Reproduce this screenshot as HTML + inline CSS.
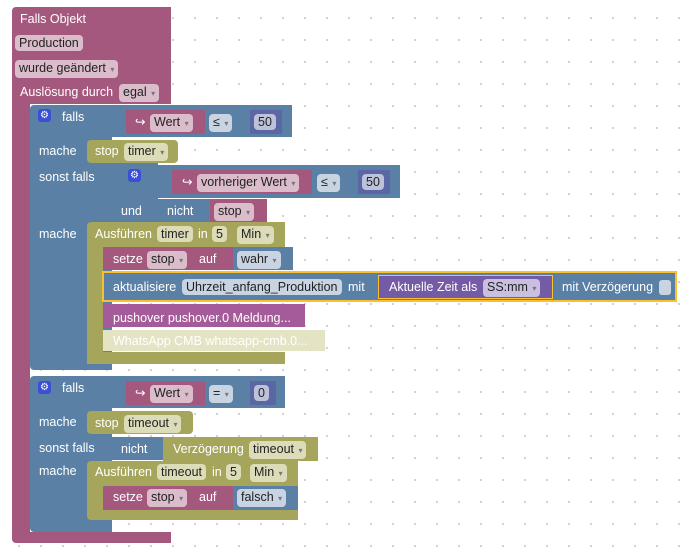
<!DOCTYPE html>
<html><head><meta charset="utf-8"><style>
body{margin:0;width:693px;height:560px;overflow:hidden;background:#fff;position:relative;font-family:"Liberation Sans",sans-serif;font-size:12.5px;}
#bg{position:absolute;left:0;top:0;width:693px;height:560px;background-image:radial-gradient(circle,#ccc 0.9px,transparent 1.2px);background-size:22px 22px;background-position:8px 7px;}
.b{position:absolute;}
.m{background:#a5587d;}
.bl{background:#5b80a5;}
.o{background:#a5a55b;}
.p{background:#a55b99;}
.t{position:absolute;color:#fff;white-space:nowrap;line-height:16px;}
.f{position:absolute;color:#222;white-space:nowrap;line-height:16px;padding:0 4px;border-radius:4px;background:rgba(255,255,255,.6);}
.dd:after{content:"  ▾";font-size:8px;color:#777;white-space:pre;}
.gear{position:absolute;width:13px;height:13px;background:#3b4fd6;border-radius:3px;color:#fff;font-size:10px;line-height:13px;text-align:center;}
</style></head><body>
<div id="bg"></div>
<div class="b m" style="left:12px;top:7px;width:159px;height:97px;border-radius:4px 0 0 0"></div>
<div class="b m" style="left:12px;top:100px;width:18px;height:440px"></div>
<div class="b m" style="left:12px;top:532px;width:159px;height:11px;border-radius:0 0 0 4px"></div>
<div class="t" style="left:20px;top:11px">Falls Objekt</div>
<div class="f" style="left:15px;top:35px">Production</div>
<div class="f dd" style="left:15px;top:60px">wurde geändert</div>
<div class="t" style="left:20px;top:84px">Auslösung durch</div>
<div class="f dd" style="left:119px;top:84px">egal</div>

<div class="b bl" style="left:30px;top:105px;width:82px;height:265px;border-radius:4px 0 0 4px"></div>
<div class="b bl" style="left:112px;top:105px;width:180px;height:32px"></div>
<div class="gear" style="left:38px;top:109px">⚙</div>
<div class="t" style="left:62px;top:109px">falls</div>
<div class="b m" style="left:126px;top:110px;width:79px;height:24px"></div>
<div class="t" style="left:135px;top:114px">↪</div>
<div class="f dd" style="left:150px;top:114px">Wert</div>
<div class="f dd" style="left:209px;top:114px;background:#c8d4e2">≤</div>
<div class="b" style="left:250px;top:110px;width:32px;height:24px;background:#5b67a5"></div>
<div class="f" style="left:254px;top:114px">50</div>
<div class="t" style="left:39px;top:143px">mache</div>
<div class="b o" style="left:87px;top:140px;width:91px;height:23px;border-radius:4px"></div>
<div class="t" style="left:95px;top:143px">stop</div>
<div class="f dd" style="left:124px;top:143px;background:#dcdcb8">timer</div>
<div class="t" style="left:39px;top:169px">sonst falls</div>
<div class="b bl" style="left:112px;top:163px;width:46px;height:59px"></div>
<div class="b bl" style="left:158px;top:165px;width:242px;height:33px"></div>
<div class="gear" style="left:128px;top:169px">⚙</div>
<div class="b m" style="left:172px;top:170px;width:140px;height:24px"></div>
<div class="t" style="left:182px;top:174px">↪</div>
<div class="f dd" style="left:197px;top:174px">vorheriger Wert</div>
<div class="f dd" style="left:317px;top:174px;background:#c8d4e2">≤</div>
<div class="b" style="left:358px;top:170px;width:32px;height:24px;background:#5b67a5"></div>
<div class="f" style="left:362px;top:174px">50</div>
<div class="t" style="left:121px;top:203px">und</div>
<div class="b bl" style="left:158px;top:199px;width:52px;height:23px"></div>
<div class="t" style="left:167px;top:203px">nicht</div>
<div class="b m" style="left:210px;top:199px;width:57px;height:23px"></div>
<div class="f dd" style="left:214px;top:203px">stop</div>
<div class="t" style="left:39px;top:226px">mache</div>
<div class="b o" style="left:87px;top:222px;width:198px;height:25px;border-radius:4px 0 0 0"></div>
<div class="b o" style="left:87px;top:246px;width:16px;height:118px"></div>
<div class="b o" style="left:87px;top:352px;width:198px;height:12px;border-radius:0 0 0 4px"></div>
<div class="t" style="left:95px;top:226px">Ausführen</div>
<div class="f" style="left:157px;top:226px;background:#dcdcb8">timer</div>
<div class="t" style="left:198px;top:226px">in</div>
<div class="f" style="left:212px;top:226px;background:#dcdcb8">5</div>
<div class="f dd" style="left:237px;top:226px;background:#dcdcb8">Min</div>
<div class="b m" style="left:103px;top:247px;width:130px;height:23px;border-radius:4px 0 0 0"></div>
<div class="t" style="left:113px;top:251px">setze</div>
<div class="f dd" style="left:147px;top:251px">stop</div>
<div class="t" style="left:199px;top:251px">auf</div>
<div class="b bl" style="left:233px;top:247px;width:60px;height:23px"></div>
<div class="f dd" style="left:237px;top:251px;background:#c8d4e2">wahr</div>
<div class="b bl" style="left:102px;top:271px;width:575px;height:31px;border:2px solid #fbc02d;box-sizing:border-box"></div>
<div class="t" style="left:113px;top:279px">aktualisiere</div>
<div class="f" style="left:182px;top:279px;background:#c8d4e2">Uhrzeit_anfang_Produktion</div>
<div class="t" style="left:348px;top:279px">mit</div>
<div class="b" style="left:378px;top:275px;width:175px;height:24px;background:#745ba5;border:1px solid #fbc02d;box-sizing:border-box"></div>
<div class="t" style="left:389px;top:279px">Aktuelle Zeit als</div>
<div class="f dd" style="left:483px;top:279px;background:#c9bfe0">SS:mm</div>
<div class="t" style="left:562px;top:279px">mit Verzögerung</div>
<div class="b" style="left:659px;top:280px;width:12px;height:15px;background:#c8d4e2;border-radius:3px"></div>
<div class="b p" style="left:103px;top:304px;width:202px;height:23px"></div>
<div class="t" style="left:113px;top:310px">pushover pushover.0 Meldung...</div>
<div class="b" style="left:103px;top:330px;width:222px;height:21px;background:#e4e4c4"></div>
<div class="t" style="left:113px;top:333px">WhatsApp CMB whatsapp-cmb.0...</div>

<div class="b bl" style="left:30px;top:376px;width:82px;height:156px;border-radius:4px 0 0 4px"></div>
<div class="b bl" style="left:112px;top:376px;width:173px;height:32px"></div>
<div class="gear" style="left:38px;top:381px">⚙</div>
<div class="t" style="left:62px;top:380px">falls</div>
<div class="b m" style="left:126px;top:381px;width:79px;height:24px"></div>
<div class="t" style="left:135px;top:385px">↪</div>
<div class="f dd" style="left:150px;top:385px">Wert</div>
<div class="f dd" style="left:209px;top:385px;background:#c8d4e2">=</div>
<div class="b" style="left:250px;top:381px;width:26px;height:24px;background:#5b67a5"></div>
<div class="f" style="left:254px;top:385px">0</div>
<div class="t" style="left:39px;top:414px">mache</div>
<div class="b o" style="left:87px;top:411px;width:106px;height:23px;border-radius:4px"></div>
<div class="t" style="left:95px;top:415px">stop</div>
<div class="f dd" style="left:124px;top:415px;background:#dcdcb8">timeout</div>
<div class="t" style="left:39px;top:440px">sonst falls</div>
<div class="b bl" style="left:112px;top:437px;width:51px;height:23px"></div>
<div class="t" style="left:121px;top:441px">nicht</div>
<div class="b o" style="left:163px;top:437px;width:155px;height:24px"></div>
<div class="t" style="left:173px;top:441px">Verzögerung</div>
<div class="f dd" style="left:249px;top:441px;background:#dcdcb8">timeout</div>
<div class="t" style="left:39px;top:463px">mache</div>
<div class="b o" style="left:87px;top:461px;width:211px;height:25px;border-radius:4px 0 0 0"></div>
<div class="b o" style="left:87px;top:485px;width:16px;height:30px"></div>
<div class="b o" style="left:87px;top:510px;width:211px;height:10px;border-radius:0 0 0 4px"></div>
<div class="t" style="left:95px;top:464px">Ausführen</div>
<div class="f" style="left:157px;top:464px;background:#dcdcb8">timeout</div>
<div class="t" style="left:212px;top:464px">in</div>
<div class="f" style="left:226px;top:464px;background:#dcdcb8">5</div>
<div class="f dd" style="left:250px;top:464px;background:#dcdcb8">Min</div>
<div class="b m" style="left:103px;top:486px;width:130px;height:24px;border-radius:4px 0 0 0"></div>
<div class="t" style="left:113px;top:489px">setze</div>
<div class="f dd" style="left:147px;top:489px">stop</div>
<div class="t" style="left:199px;top:489px">auf</div>
<div class="b bl" style="left:233px;top:486px;width:65px;height:24px"></div>
<div class="f dd" style="left:237px;top:489px;background:#c8d4e2">falsch</div>
</body></html>
